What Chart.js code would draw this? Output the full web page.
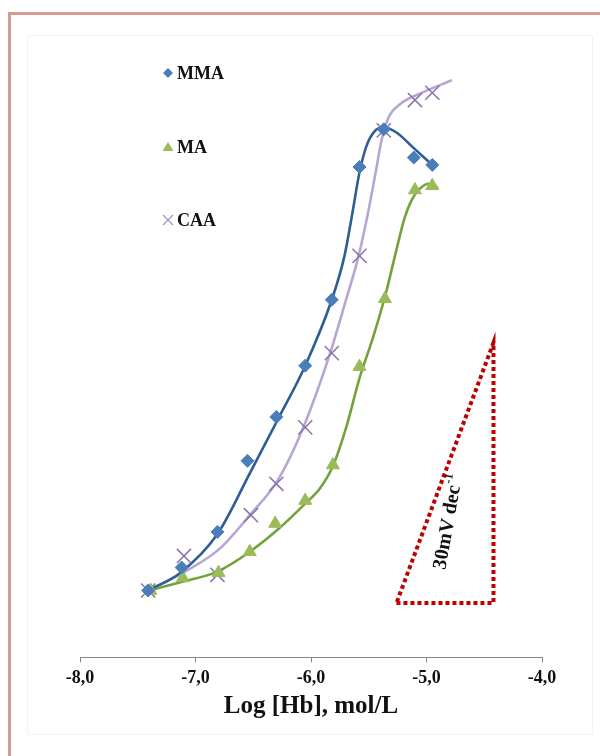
<!DOCTYPE html>
<html>
<head>
<meta charset="utf-8">
<script src="https://cdn.jsdelivr.net/npm/chart.js@4.4.1/dist/chart.umd.min.js"></script>
<style>
  html, body { margin: 0; padding: 0; background: #ffffff; }
  #wrap { position: relative; width: 600px; height: 756px; overflow: hidden; }
  #frame { position: absolute; left: 8px; top: 12px; width: 620px; height: 780px;
           border-left: 3px solid #d69a94; border-top: 3px solid #d69a94; box-sizing: border-box; }
  #inner { position: absolute; left: 27px; top: 35px; width: 566px; height: 700px;
           border: 1px solid #f3f3f3; box-sizing: border-box; }
  canvas { position: absolute; left: 0; top: 0; }
</style>
</head>
<body>
<div id="wrap">
  <div id="frame"></div>
  <div id="inner"></div>
  <canvas id="chart" width="600" height="756"></canvas>
</div>
<script>
// log10 of haemoglobin concentration (mol/L) and electrode potential (mV)
const mmaLogC = [-7.41, -7.12, -6.81, -6.55, -6.30, -6.05, -5.82, -5.58, -5.37, -5.11, -4.95];
const mmaE    = [6.4, 8.6, 12.0, 18.8, 23.0, 27.9, 34.2, 46.9, 50.5, 47.8, 47.1];

const maLogC  = [-7.39, -7.11, -6.80, -6.53, -6.31, -6.05, -5.81, -5.58, -5.36, -5.10, -4.95];
const maE     = [6.4, 7.6, 8.1, 10.1, 12.8, 15.0, 18.4, 27.8, 34.3, 44.7, 45.1];

const caaLogC = [-7.41, -7.10, -6.81, -6.52, -6.30, -6.05, -5.82, -5.58, -5.37, -5.10, -4.95];
const caaE    = [6.4, 9.7, 7.9, 13.6, 16.6, 22.0, 29.1, 38.4, 50.4, 53.3, 54.0];

// fitted response curves
const mmaFitLogC = [-7.41, -7.13, -6.81, -6.53, -6.29, -6.05, -5.82, -5.71, -5.64, -5.58, -5.52, -5.45, -5.38, -5.26, -5.12, -4.94];
const mmaFitE    = [6.4, 8.1, 11.8, 17.6, 22.7, 27.9, 34.2, 38.4, 42.6, 46.4, 48.9, 50.3, 50.7, 50.2, 48.8, 47.0];

const maFitLogC  = [-7.41, -7.09, -6.81, -6.53, -6.29, -6.05, -5.92, -5.81, -5.69, -5.58, -5.46, -5.35, -5.26, -5.19, -5.13, -5.06, -4.98, -4.90];
const maFitE     = [6.4, 7.3, 8.2, 10.1, 12.2, 14.7, 16.2, 18.3, 22.2, 26.7, 30.7, 34.9, 39.0, 42.0, 43.7, 44.8, 45.3, 44.9];

const caaFitLogC = [-7.41, -7.09, -6.79, -6.53, -6.29, -6.07, -5.84, -5.71, -5.59, -5.51, -5.44, -5.39, -5.33, -5.23, -5.06, -4.78];
const caaFitE    = [6.4, 8.2, 10.4, 13.6, 16.9, 21.9, 28.9, 33.7, 38.3, 42.3, 46.4, 49.4, 51.6, 52.9, 53.9, 55.2];

// 30 mV per decade reference slope triangle
const slopeLogC = [-5.26, -4.42, -4.42, -5.26];
const slopeE    = [5.2, 5.2, 30.1, 5.2];

const xTicks = [-8, -7, -6, -5, -4];
const seriesNames = ['MMA', 'MA', 'CAA'];

const pts = (xs, ys) => xs.map((x, i) => ({ x: x, y: ys[i] }));

const C_MMA_PT = '#4a7ebb', C_MMA_LN = '#2f5d96';
const C_MA_PT = '#9bbb59', C_MA_LN = '#72a23a';
const C_CAA_PT = '#8a73ad', C_CAA_LN = '#b8a6d2';
const SERIF = '"Liberation Serif", "Times New Roman", serif';

function lineSet(data, color) {
  return { data: data, showLine: true, borderColor: color, borderWidth: 2.6,
           pointRadius: 0, cubicInterpolationMode: 'monotone', fill: false };
}
function markSet(data, color, style, r, bw) {
  return { data: data, showLine: false, pointStyle: style, pointRadius: r,
           pointBackgroundColor: color, pointBorderColor: color, pointBorderWidth: bw };
}

// series legend and slope label
const decorations = {
  id: 'decorations',
  afterDatasetsDraw(chart) {
    const ctx = chart.ctx;
    const xs = chart.scales.x, ys = chart.scales.y;
    ctx.save();
    const lx = 168, rows = [73, 147, 220];
    // diamond
    ctx.fillStyle = C_MMA_PT;
    ctx.beginPath();
    ctx.moveTo(lx, rows[0] - 5); ctx.lineTo(lx + 5, rows[0]); ctx.lineTo(lx, rows[0] + 5); ctx.lineTo(lx - 5, rows[0]);
    ctx.closePath(); ctx.fill();
    // triangle
    ctx.fillStyle = C_MA_PT;
    ctx.beginPath();
    ctx.moveTo(lx, rows[1] - 5); ctx.lineTo(lx + 5.5, rows[1] + 4); ctx.lineTo(lx - 5.5, rows[1] + 4);
    ctx.closePath(); ctx.fill();
    // cross
    ctx.strokeStyle = '#a596c0'; ctx.lineWidth = 1.2;
    ctx.beginPath();
    ctx.moveTo(lx - 5, rows[2] - 5); ctx.lineTo(lx + 5, rows[2] + 5);
    ctx.moveTo(lx + 5, rows[2] - 5); ctx.lineTo(lx - 5, rows[2] + 5);
    ctx.stroke();

    ctx.fillStyle = '#111111';
    ctx.font = 'bold 18px ' + SERIF;
    ctx.textBaseline = 'middle';
    ctx.textAlign = 'left';
    seriesNames.forEach((n, i) => ctx.fillText(n, 177, rows[i] + 1));

    // slope label
    const cx = xs.getPixelForValue(-4.81), cy = ys.getPixelForValue(12.9);
    ctx.translate(cx, cy);
    ctx.rotate(-80 * Math.PI / 180);
    ctx.font = 'bold 20px ' + SERIF;
    const main = '30mV dec', sup = '-1';
    const wMain = ctx.measureText(main).width;
    ctx.font = 'bold 12px ' + SERIF;
    const wSup = ctx.measureText(sup).width;
    const start = -(wMain + wSup) / 2;
    ctx.font = 'bold 20px ' + SERIF;
    ctx.fillText(main, start, 0);
    ctx.font = 'bold 12px ' + SERIF;
    ctx.fillText(sup, start + wMain + 1, -7);
    ctx.restore();
  }
};

new Chart(document.getElementById('chart'), {
  type: 'scatter',
  data: {
    datasets: [
      markSet(pts(mmaLogC, mmaE), C_MMA_PT, 'rectRot', 6.5, 1),
      markSet(pts(maLogC, maE), C_MA_PT, 'triangle', 7.5, 1),
      markSet(pts(caaLogC, caaE), C_CAA_PT, 'crossRot', 10, 1.5),
      lineSet(pts(mmaFitLogC, mmaFitE), C_MMA_LN),
      lineSet(pts(maFitLogC, maFitE), C_MA_LN),
      lineSet(pts(caaFitLogC, caaFitE), C_CAA_LN),
      { data: pts(slopeLogC, slopeE), showLine: true, borderColor: '#c00000', borderWidth: 4,
        borderDash: [4, 3], pointRadius: 0, tension: 0, fill: false }
    ]
  },
  options: {
    responsive: false,
    animation: false,
    layout: { padding: { left: 80, right: 58, top: 30, bottom: 34 } },
    plugins: { legend: { display: false }, tooltip: { enabled: false } },
    scales: {
      x: {
        type: 'linear', min: -8, max: -4,
        afterBuildTicks: (axis) => { axis.ticks = xTicks.map(v => ({ value: v })); },
        grid: { display: true, drawOnChartArea: false, drawTicks: true, tickLength: 5, color: '#868686' },
        border: { display: true, color: '#868686', width: 1 },
        ticks: {
          padding: 5, color: '#111111', maxRotation: 0,
          font: { family: SERIF, size: 18, weight: 'bold' },
          callback: (v) => v.toFixed(1).replace('.', ',')
        },
        title: { display: true, text: 'Log [Hb], mol/L', color: '#111111',
                 font: { family: SERIF, size: 25, weight: 'bold' }, padding: { top: -2, bottom: 0 } }
      },
      y: { type: 'linear', min: 0, max: 60, display: false }
    }
  },
  plugins: [decorations]
});
</script>
</body>
</html>
